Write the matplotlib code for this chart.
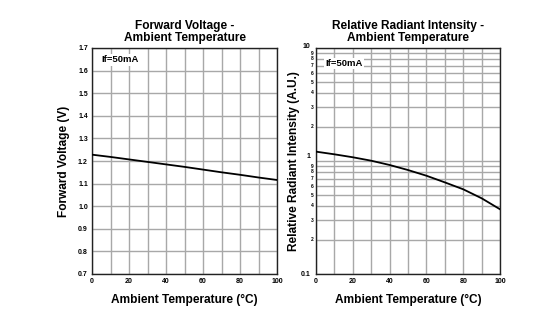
import matplotlib
matplotlib.use("Agg")
import matplotlib.pyplot as plt
import numpy as np
from matplotlib.ticker import FixedLocator, NullFormatter
from matplotlib.transforms import offset_copy

plt.rcParams['font.family'] = ['Liberation Sans', 'DejaVu Sans']
plt.rcParams['font.weight'] = 'bold'

# Data
temp = [0, 10, 20, 30, 40, 50, 60, 70, 80, 90, 100]
vf = [1.228, 1.218, 1.207, 1.196, 1.185, 1.174, 1.162, 1.150, 1.139, 1.127, 1.116]
rel_int = [1.21, 1.146, 1.079, 1.006, 0.922, 0.832, 0.741, 0.647, 0.562, 0.468, 0.374]

left_title = "Forward Voltage -\nAmbient Temperature"
right_title = "Relative Radiant Intensity -\nAmbient Temperature"
xlabel = "Ambient Temperature (°C)"
left_ylabel = "Forward Voltage (V)"
right_ylabel = "Relative Radiant Intensity (A.U.)"
cond = "If=50mA"
log_major = [0.1, 1, 10]
log_major_labels = ["0.1", "1", "10"]

W, H = 542, 336
fig = plt.figure(figsize=(W/100, H/100), dpi=100)

def ax_rect(x0, y0, x1, y1):
    return [x0/W, 1 - y1/H, (x1-x0)/W, (y1-y0)/H]

grid_c = '#a8a8a8'
fs_big = 8.6

ax1 = fig.add_axes(ax_rect(92, 48, 277, 274))
ax1.set_xlim(0, 100)
ax1.set_ylim(0.7, 1.7)
ax1.set_xticks(np.arange(0, 101, 20))
ax1.set_xticks(np.arange(0, 101, 10), minor=True)
ax1.set_yticks(np.round(np.arange(0.7, 1.71, 0.1), 1))
ax1.set_yticklabels([f"{v:.1f}" for v in np.arange(0.7, 1.71, 0.1)])
ax1.grid(True, which='both', axis='x', color=grid_c, lw=1.0)
ax1.grid(True, which='major', axis='y', color=grid_c, lw=1.0)
ax1.plot(temp, vf, color='black', lw=1.3, zorder=5)
ax1.set_title(left_title, fontsize=fs_big, fontweight='bold', pad=5, linespacing=1.0)
ax1.set_xlabel(xlabel, fontsize=fs_big, fontweight='bold', labelpad=6)
ax1.set_ylabel(left_ylabel, fontsize=fs_big, fontweight='bold')
ax1.yaxis.label.set_va('center')
ax1.yaxis.set_label_coords((64 - 92) / 185, 0.5)
ax1.text(5, 1.648, cond, fontsize=6.8, fontweight='bold', va='center', ha='left',
         bbox=dict(facecolor='white', edgecolor='none', pad=1.0), zorder=6)

ax2 = fig.add_axes(ax_rect(316, 48, 500, 274))
ax2.set_xlim(0, 100)
ax2.set_yscale('log')
ax2.set_ylim(0.1, 10)
ax2.set_xticks(np.arange(0, 101, 20))
ax2.set_xticks(np.arange(0, 101, 10), minor=True)
ax2.yaxis.set_major_locator(FixedLocator(log_major))
ax2.yaxis.set_major_formatter(NullFormatter())
minor = [m * d for d in (0.1, 1) for m in range(2, 10)]
ax2.yaxis.set_minor_locator(FixedLocator(minor))
ax2.yaxis.set_minor_formatter(NullFormatter())
ax2.grid(True, which='both', axis='x', color=grid_c, lw=1.0)
ax2.grid(True, which='both', axis='y', color=grid_c, lw=1.0)
ytr = ax2.get_yaxis_transform()
for m in minor:
    ax2.text(-0.012, m, str(int(round(m / (0.1 if m < 1 else 1)))), transform=ytr,
             fontsize=3.5, fontweight='bold', ha='right', va='center')
for v, lab in zip(log_major, log_major_labels):
    dy = {0.1: 0, 1: 3, 10: 1}[v]
    ax2.text(-0.03, v, lab, transform=offset_copy(ytr, fig=fig, x=0, y=dy, units='points'),
             fontsize=5, fontweight='bold', ha='right', va='center')
ax2.plot(temp, rel_int, color='black', lw=1.3, zorder=5)
ax2.set_title(right_title, fontsize=fs_big, fontweight='bold', pad=5, linespacing=1.0)
ax2.set_xlabel(xlabel, fontsize=fs_big, fontweight='bold', labelpad=6)
ax2.set_ylabel(right_ylabel, fontsize=fs_big, fontweight='bold')
ax2.yaxis.label.set_va('center')
ax2.yaxis.set_label_coords((294 - 316) / 184, 0.5)
ax2.text(5, 7.3, cond, fontsize=6.8, fontweight='bold', va='center', ha='left',
         bbox=dict(facecolor='white', edgecolor='none', pad=1.0), zorder=6)

for ax in (ax1, ax2):
    ax.tick_params(which='both', length=0, labelsize=5, pad=3)
    for lab in ax.get_xticklabels() + ax.get_yticklabels():
        lab.set_fontweight('bold')
    for s in ax.spines.values():
        s.set_color('#222222')
        s.set_linewidth(1.0)
    ax.set_axisbelow(True)

fig.savefig("out.png", dpi=100)
